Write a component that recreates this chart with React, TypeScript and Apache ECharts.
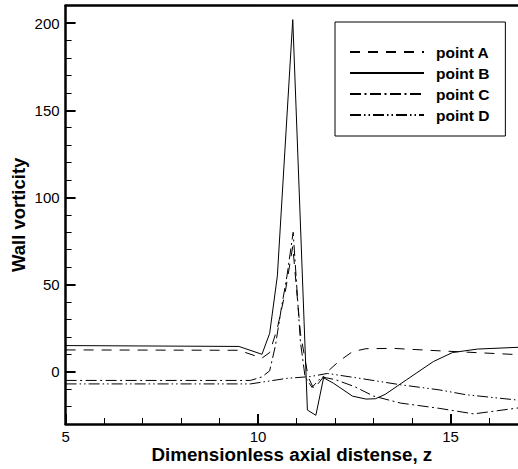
import React, { useEffect, useRef } from "react";
import * as echarts from "echarts";

// Point A (dashed)
const aZ = [5, 9.5, 10.1, 10.3, 10.5, 10.7, 10.9, 11.1, 11.3, 11.45, 11.8, 12.1, 12.45, 12.8, 13.5, 14.7, 16.75];
const aV = [12.5, 12.3, 7.8, 11, 25, 45, 72, 22, -3, -10, 0, 6, 11.5, 13.2, 13.4, 12, 9.8];
// Point B (solid)
const bZ = [5, 9.5, 10.1, 10.3, 10.5, 10.9, 11.28, 11.5, 11.7, 11.95, 12.45, 12.8, 13.05, 13.3, 13.85, 14.55, 15.05, 15.7, 16.75];
const bV = [15, 14.5, 10, 22, 55, 202, -22, -25, -3.5, -6.5, -14, -15.7, -15.5, -13, -4.7, 5.8, 11, 13, 14];
// Point C (dash-dot)
const cZ = [5, 9.8, 10.1, 10.3, 10.45, 10.6, 10.75, 10.91, 11.1, 11.22, 11.4, 11.65, 12.0, 12.5, 13.0, 13.7, 14.7, 15.6, 16.75];
const cV = [-5, -5, -3, 0.5, 15, 36, 55, 80, 17, -3, -9, -3, -4.5, -8.5, -14, -18, -21, -24.2, -20.8];
// Point D (dash-dot-dot)
const dZ = [5, 9.8, 10.75, 11.35, 11.8, 12.7, 13.7, 14.7, 15.4, 16.75];
const dV = [-7, -7, -3.8, -2.8, -1, -4, -7.5, -10.4, -13.2, -16.3];

const seriesNames = ["point A", "point B", "point C", "point D"];
const xMajor = [5, 10, 15];
const xMinor = [6, 7, 8, 9, 11, 12, 13, 14, 16];
const yMajor = [0, 50, 100, 150, 200];
const yMinor = [-20, -10, 10, 20, 30, 40, 60, 70, 80, 90, 110, 120, 130, 140, 160, 170, 180, 190];

const FONT = "'Liberation Sans', Arial, Helvetica, sans-serif";
const X_MIN = 5;
const X_MAX = 16.75;
const Y_MIN = -30;
const Y_MAX = 210;

const zip = (xs: number[], ys: number[]) => xs.map((x, i) => [x, ys[i]]);

export default function App() {
  const ref = useRef<HTMLDivElement>(null);
  useEffect(() => {
    if (!ref.current) return;
    const chart = echarts.init(ref.current, undefined, { renderer: "svg" });
    const dashes: any[] = [[10, 8], "solid", [11, 3.5, 2, 3.5], [11, 3, 1.5, 3, 1.5, 3]];
    const datas = [zip(aZ, aV), zip(bZ, bV), zip(cZ, cV), zip(dZ, dV)];
    chart.setOption({
      animation: false,
      backgroundColor: "#fff",
      textStyle: { fontFamily: FONT },
      grid: { left: 65.6, right: 0, top: 5.7, bottom: 43, containLabel: false },
      legend: {
        left: 335,
        top: 22,
        orient: "vertical",
        backgroundColor: "#fff",
        borderColor: "#000",
        borderWidth: 1,
        padding: [22, 16, 13, 14],
        itemWidth: 74,
        itemHeight: 14,
        itemGap: 5,
        data: seriesNames,
        itemStyle: { opacity: 0 },
        formatter: (n: string) => `{t|${n}}`,
        textStyle: {
          color: "#000",
          fontFamily: FONT,
          rich: {
            t: { fontSize: 15.5, fontWeight: "bold", fontFamily: FONT, color: "#000", padding: [0, 0, 0, 7], lineHeight: 14 },
          },
        },
      },
      xAxis: [
        {
          type: "value",
          min: X_MIN,
          max: X_MAX,
          position: "bottom",
          name: "Dimensionless axial distense, z",
          nameLocation: "middle",
          nameGap: 20,
          nameMoveOverlap: false,
          nameTextStyle: { fontSize: 18.8, lineHeight: 20, fontWeight: "bold", color: "#000", fontFamily: FONT },
          axisLine: { show: true, onZero: false, lineStyle: { color: "#000", width: 2.5 } },
          axisTick: { show: true, inside: true, length: 10, customValues: xMajor, lineStyle: { color: "#000", width: 2 } },
          axisLabel: { show: true, customValues: xMajor, fontSize: 15, lineHeight: 14, color: "#000", margin: 5, fontFamily: FONT },
          splitLine: { show: false },
        },
        {
          type: "value",
          min: X_MIN,
          max: X_MAX,
          position: "bottom",
          axisLine: { show: false, onZero: false },
          axisTick: { show: true, inside: true, length: 6, customValues: xMinor, lineStyle: { color: "#000", width: 1 } },
          axisLabel: { show: false },
          splitLine: { show: false },
        },
        {
          type: "value",
          min: X_MIN,
          max: X_MAX,
          position: "top",
          axisLine: { show: true, onZero: false, lineStyle: { color: "#000", width: 2.5 } },
          axisTick: { show: false },
          axisLabel: { show: false },
          splitLine: { show: false },
        },
      ],
      yAxis: [
        {
          type: "value",
          min: Y_MIN,
          max: Y_MAX,
          position: "left",
          name: "Wall vorticity",
          nameLocation: "middle",
          nameGap: 38,
          nameMoveOverlap: false,
          nameTextStyle: { fontSize: 18.5, fontWeight: "bold", color: "#000", fontFamily: FONT },
          axisLine: { show: true, onZero: false, lineStyle: { color: "#000", width: 2.5 } },
          axisTick: { show: true, inside: true, length: 10, customValues: yMajor, lineStyle: { color: "#000", width: 2 } },
          axisLabel: { show: true, customValues: yMajor, fontSize: 15, color: "#000", margin: 6, fontFamily: FONT },
          splitLine: { show: false },
        },
        {
          type: "value",
          min: Y_MIN,
          max: Y_MAX,
          position: "left",
          offset: 0,
          axisLine: { show: false, onZero: false },
          axisTick: { show: true, inside: true, length: 6, customValues: yMinor, lineStyle: { color: "#000", width: 1 } },
          axisLabel: { show: false },
          splitLine: { show: false },
        },
      ],
      series: seriesNames.map((name, i) => ({
        name,
        type: "line",
        xAxisIndex: 0,
        yAxisIndex: 0,
        data: datas[i],
        symbol: "none",
        clip: true,
        lineStyle: { color: "#000", width: 1, type: dashes[i] },
        itemStyle: { color: "#000" },
      })),
    });
    return () => chart.dispose();
  }, []);
  return <div ref={ref} style={{ width: 518, height: 469, position: "absolute", left: 0, top: 0 }} />;
}
